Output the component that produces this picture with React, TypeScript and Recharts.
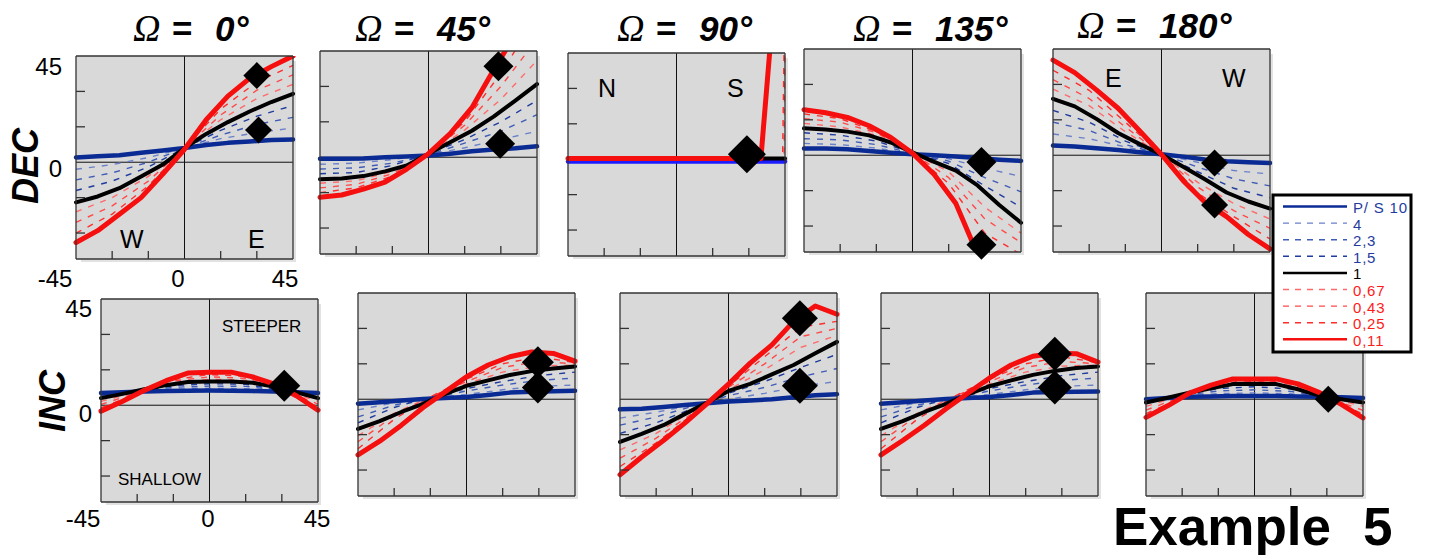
import React from 'react'
import { ComposedChart, Line, Scatter, XAxis, YAxis, CartesianGrid, ReferenceLine } from 'recharts'

// x positions of the traces (degrees)
const XS = [-45, -36, -27, -18, -9, 0, 9, 18, 27, 36, 45]
const XD = [-45, -30, -15, 0, 15, 30, 45]
const XS90 = [-45, 0, 35, 38.7, 45]
const XD90 = [-45, 0, 44, 44.6, 45]
const TICKS = [-30, -15, 15, 30]
const OMEGAS = ['0°', '45°', '90°', '135°', '180°']
const RATIOS = ['P/ S 10', '4', '2,3', '1,5', '1', '0,67', '0,43', '0,25', '0,11']

// solid rows: P/S 10, 1, 0,11
// dash rows: P/S 4, 2,3, 1,5, 0,67, 0,43, 0,25
const dec0Solid = [
  [2, 2.5, 3, 4, 5, 6, 7.3, 8.2, 8.8, 9.4, 9.6],
  [-17, -14.5, -11, -6, -1, 6, 12, 17, 21.5, 25.5, 29],
  [-34, -29, -22, -15, -5, 5.5, 18, 28, 35.5, 40.5, 45],
]
const dec0Dash = [
  [-3, -1, 2, 6, 10, 12.5, 14.5],
  [-7.5, -4.5, 0, 6, 11.5, 16, 19],
  [-12, -8, -2, 6, 13.5, 19.5, 24],
  [-21, -15, -6, 6, 18, 27, 33],
  [-25.5, -18.5, -8, 6, 20, 30.5, 37],
  [-30, -22, -10, 6, 22.5, 34, 41],
]
const dec0Marks = [[30, 36.7], [30.7, 13.6]]

const dec45Solid = [
  [-0.7, -0.7, -0.5, 0, 0.3, 0.7, 1.5, 2.5, 3.3, 3.8, 4.6],
  [-9.3, -9, -8, -6, -3.5, 1.5, 6.3, 11.2, 17.2, 24, 31],
  [-17, -16, -13.5, -10.5, -5, 1.5, 10, 21, 37, 52, 70],
]
const dec45Dash = [
  [-3, -2.5, -1, 1, 4, 7.5, 11],
  [-5, -4.5, -2.5, 1, 6, 11, 18],
  [-7, -6.5, -3.5, 1.5, 7.5, 15, 24],
  [-11, -10, -6, 1.5, 11.5, 24.5, 41],
  [-13, -11.5, -7, 1.5, 13.5, 30, 50],
  [-15, -13, -8, 1.5, 15, 35.5, 60],
]
const dec45Marks = [[29, 38.5], [29.7, 5.7]]

const dec90Solid = [
  [-1, -1, -1, -1, -1],
  [0.3, 0.3, 0.3, 0.3, 0.3],
  [0.3, 0.3, 0.3, 46, 124],
]
const dec90Dash = [
  [0.3, 0.3, 0.3, 0.3, 0.3],
  [0.3, 0.3, 0.3, 0.3, 0.3],
  [0.3, 0.3, 0.3, 0.3, 0.3],
  [0.3, 0.3, 0.3, 0.3, 0.3],
  [0.3, 0.3, 0.3, 0.3, 60],
  [0.3, 0.3, 0.3, 46, 90],
]
const dec90Marks = [[29.2, 2.1]]

const dec135Solid = [
  [2.9, 2.8, 2.5, 1.8, 1, 0.4, 0, -0.5, -1.2, -1.9, -2.4],
  [11.4, 10.9, 10, 8.4, 5.4, 1.2, -2.8, -6.5, -12.8, -21.1, -28.6],
  [19.3, 18, 16, 12.5, 7.5, 0.8, -8.2, -20.5, -42, -70, -100],
]
const dec135Dash = [
  [5, 4.5, 3, 0.6, -1.5, -5.5, -9],
  [7, 6.5, 4.5, 0.8, -2.5, -9.5, -15.5],
  [9.5, 8.5, 6, 1, -3.5, -13, -22],
  [13.5, 12, 8.5, 1, -7, -22, -33],
  [15.5, 14, 9.5, 1, -9.5, -27, -37],
  [17.5, 15.5, 10, 1, -12, -33, -42],
]
const dec135Marks = [[28.6, -2.9], [28.6, -37.9]]

const dec180Solid = [
  [4.1, 3.7, 3, 2.2, 1.3, 0.4, -0.6, -1.8, -2.6, -3, -3.3],
  [23.9, 20.7, 15.4, 9.4, 4.7, 0.3, -4.9, -10.2, -15.8, -19.6, -22.6],
  [40.3, 35, 27.7, 19.9, 10.3, 0.3, -10.8, -19.9, -26, -33.6, -39.7],
]
const dec180Dash = [
  [9, 7, 3.5, 0.4, -3, -6.5, -8],
  [14, 10.5, 4.5, 0.4, -5, -10, -13],
  [19, 14, 6, 0.3, -7, -14, -18],
  [28, 21, 10, 0.3, -11.5, -20.5, -27],
  [32, 24, 12, 0.3, -13.5, -23.5, -31],
  [36, 27.5, 14, 0.3, -16, -26, -35.5],
]
const dec180Marks = [[22, -3.3], [22, -21.1]]

const inc0Solid = [
  [5.2, 5.5, 5.8, 6, 6.1, 6.2, 6.1, 6, 5.8, 5.5, 5.2],
  [3, 4.8, 6.8, 8.5, 9.8, 10, 10, 9.5, 7.8, 5.5, 3],
  [-2.5, 1.7, 6.3, 10.4, 13.6, 14, 14, 12, 8.9, 4, -2.1],
]
const inc0Dash = [
  [4.7, 5.8, 6.8, 7.2, 7, 5.9, 4.7],
  [4.1, 5.9, 7.6, 8.1, 8, 6.1, 4.1],
  [3.6, 5.9, 8.3, 9.1, 8.9, 6.3, 3.6],
  [1.6, 5.6, 9.6, 11, 10.6, 6.5, 1.7],
  [0.3, 5.3, 10.3, 12, 11.4, 6.5, 0.5],
  [-1.1, 4.9, 10.9, 13, 12.2, 6.5, -0.8],
]
const inc0Marks = [[31, 8.3]]

const inc45Solid = [
  [-1.9, -1.3, -0.5, 0.1, 0.5, 0.9, 1.8, 2.8, 3.2, 3.4, 3.6],
  [-12.6, -9.3, -5.4, -2, 2.2, 5.7, 8, 10.3, 11.9, 13, 13.9],
  [-23.6, -17.8, -11, -3.5, 3, 9.5, 14.5, 18, 20, 19.4, 16.1],
]
const inc45Dash = [
  [-4.5, -1.5, 0.5, 2, 4, 5.5, 6],
  [-7.5, -2.5, 0.5, 3.5, 6, 8, 9],
  [-10, -3.5, 1, 4.5, 7.5, 10, 11.5],
  [-15.5, -6, 1, 6.5, 11.5, 14, 14.5],
  [-18, -7, 1, 7.5, 13.5, 16, 15],
  [-21, -8.5, 1, 8.5, 15, 18, 15.5],
]
const inc45Marks = [[29.6, 15.7], [29.6, 5]]

const inc90Solid = [
  [-4.3, -4, -3.3, -2.4, -1.7, -1, -0.5, 0, 0.8, 1.7, 2.1],
  [-18.1, -14.7, -11, -6.2, -1.5, 3.5, 6.5, 10.5, 14.5, 19.5, 24.3],
  [-32, -24.5, -17.5, -10, -2, 6.4, 15.3, 23, 33, 39.5, 36],
]
const inc90Dash = [
  [-8, -5.5, -2.5, 0, 2.5, 5.5, 7.5],
  [-11, -7.5, -3, 1.5, 5, 9.5, 13],
  [-14.5, -10, -4, 2.5, 7.5, 13.5, 19],
  [-21.5, -14.5, -5, 4, 12.5, 22, 27],
  [-25, -16.5, -6, 5, 15, 26.5, 30],
  [-28.5, -18.5, -6.5, 5.5, 18, 30.5, 33],
]
const inc90Marks = [[29.6, 34.3], [29.6, 5.7]]

const inc135Solid = [
  [-1.9, -1.3, -0.5, 0.1, 0.5, 0.9, 1.8, 2.8, 3.1, 3.2, 3.3],
  [-12.6, -9.3, -5.4, -2, 2, 5.5, 8, 10.3, 12, 13.2, 13.9],
  [-23.6, -17.5, -11, -4, 2.5, 9, 14.5, 18.2, 19.5, 19.3, 15.7],
]
const inc135Dash = [
  [-4.5, -1.5, 0.5, 2, 4, 5.5, 6],
  [-7.5, -2.5, 0.5, 3.5, 6, 8, 9],
  [-10, -3.5, 1, 4.5, 7.5, 10, 11.5],
  [-15.5, -6, 1, 6.5, 11.5, 14, 14.5],
  [-18, -7, 1, 7.5, 13.5, 16, 15],
  [-21, -8.5, 1, 8.5, 15, 18, 15.5],
]
const inc135Marks = [[27.1, 19.3], [27.1, 5]]

const inc180Solid = [
  [0, 0.5, 1, 1.2, 1.4, 1.4, 1.4, 1.2, 1, 0.8, 0.5],
  [-1.4, 0.6, 2.8, 4.6, 6.4, 6.6, 6.4, 4.2, 1.5, 0, -1.4],
  [-7.7, -2.8, 2.6, 6, 8.6, 8.6, 8.6, 6.5, 2.8, -2.2, -7.9],
]
const inc180Dash = [
  [-0.4, 1.1, 2.4, 2.7, 2.3, 0.9, 0],
  [-0.7, 1.5, 3.5, 4, 3.3, 0.9, -0.5],
  [-1.1, 1.8, 4.5, 5.3, 4.3, 0.9, -0.9],
  [-3, 1.6, 6, 7.1, 5.9, 0.8, -3],
  [-4.6, 1.1, 6.3, 7.6, 6.5, 0.8, -4.7],
  [-6.1, 0.5, 6.6, 8.1, 7.1, 0.7, -6.3],
]
const inc180Marks = [[30.6, 0]]

const W = 215
const H = 201
const M = 24
const SANS = "'Liberation Sans', Arial, sans-serif"
const SERIF = "'Liberation Serif', 'Times New Roman', serif"
const BLUE = '#0b2b94'
const RED = '#f50f0f'
const SOLID_STYLE = [
  { stroke: BLUE, width: 4.5 },
  { stroke: '#000', width: 4 },
  { stroke: RED, width: 5 },
]
const DASH_COLORS = ['#6a80c8', '#3f5cb6', '#1f3c9e', '#ff6a6a', '#ff4a4a', '#ff2e2e']
const FRAME = { stroke: '#333', strokeWidth: 1.3 }

const PANELS = [
  { left: 77, top: 57, xs: XS, xd: XD, solid: dec0Solid, dash: dec0Dash, marks: dec0Marks, r: 13.5 },
  { left: 321, top: 52, xs: XS, xd: XD, solid: dec45Solid, dash: dec45Dash, marks: dec45Marks, r: 15 },
  { left: 569, top: 54, xs: XS90, xd: XD90, solid: dec90Solid, dash: dec90Dash, marks: dec90Marks, r: 19, blue: '#1c1cff' },
  { left: 805, top: 50, xs: XS, xd: XD, solid: dec135Solid, dash: dec135Dash, marks: dec135Marks, r: 15 },
  { left: 1054, top: 50, xs: XS, xd: XD, solid: dec180Solid, dash: dec180Dash, marks: dec180Marks, r: 13.5 },
  { left: 102, top: 300, xs: XS, xd: XD, solid: inc0Solid, dash: inc0Dash, marks: inc0Marks, r: 16 },
  { left: 359, top: 294, xs: XS, xd: XD, solid: inc45Solid, dash: inc45Dash, marks: inc45Marks, r: 16 },
  { left: 621, top: 294, xs: XS, xd: XD, solid: inc90Solid, dash: inc90Dash, marks: inc90Marks, r: 18 },
  { left: 882, top: 294, xs: XS, xd: XD, solid: inc135Solid, dash: inc135Dash, marks: inc135Marks, r: 17 },
  { left: 1147, top: 294, xs: XS, xd: XD, solid: inc180Solid, dash: inc180Dash, marks: inc180Marks, r: 13.5 },
]

const diamond = (r: number) => (props: any) => {
  const { cx, cy } = props
  return <polygon points={`${cx},${cy - r} ${cx + r},${cy} ${cx},${cy + r} ${cx - r},${cy}`} fill="#000" />
}

// tick marks only, no tick labels
const noLabel = () => <g />

function Panel({ cfg }: { cfg: any }) {
  const solid = cfg.solid.map((v: number[]) => cfg.xs.map((x: number, i: number) => ({ x, y: v[i] })))
  const dash = cfg.dash.map((v: number[]) => cfg.xd.map((x: number, i: number) => ({ x, y: v[i] })))
  const marks = cfg.marks.map(([x, y]: number[]) => ({ x, y }))

  // axes take 1px each side (a 0px axis is not drawn)
  const m = M - 1
  return (
    <div style={{ position: 'absolute', left: cfg.left - M, top: cfg.top - M, width: W + 2 * M, height: H + 2 * M }}>
      {/* drop shadow */}
      <div style={{ position: 'absolute', left: M + 4, top: M + 4, width: W, height: H, background: '#e2e2e2' }} />
      <div style={{ position: 'absolute', left: 0, top: 0 }}>
        <ComposedChart width={W + 2 * M} height={H + 2 * M} margin={{ top: m, right: m, bottom: m, left: m }}>
          <CartesianGrid fill="#d9d9d9" horizontal={false} vertical={false} />
          <XAxis type="number" dataKey="x" domain={[-45, 45]} ticks={TICKS} interval={0} height={1} mirror
            tick={noLabel} tickSize={8} axisLine={FRAME} tickLine={FRAME} />
          <XAxis xAxisId="top" orientation="top" type="number" dataKey="x" domain={[-45, 45]} ticks={TICKS}
            interval={0} height={1} mirror tick={noLabel} tickSize={8} axisLine={FRAME} tickLine={FRAME} />
          <YAxis type="number" domain={[-41, 45]} allowDataOverflow ticks={TICKS} interval={0} width={1} mirror
            tick={noLabel} tickSize={9} axisLine={FRAME} tickLine={FRAME} />
          <YAxis yAxisId="right" orientation="right" type="number" domain={[-41, 45]} ticks={TICKS} interval={0}
            width={1} mirror tick={noLabel} tickSize={9} axisLine={FRAME} tickLine={FRAME} />
          <YAxis yAxisId="s" type="number" domain={[-41, 45]} hide />
          <ReferenceLine x={0} stroke="#111" strokeWidth={1} />
          <ReferenceLine y={0} stroke="#111" strokeWidth={1} />
          {dash.map((d: any, i: number) => (
            <Line key={'d' + i} data={d} dataKey="y" type="linear" stroke={DASH_COLORS[i]} strokeWidth={1.4}
              strokeDasharray="6 7" dot={false} activeDot={false} isAnimationActive={false} />
          ))}
          {solid.map((d: any, i: number) => (
            <Line key={'s' + i} data={d} dataKey="y" type="linear"
              stroke={i === 0 && cfg.blue ? cfg.blue : SOLID_STYLE[i].stroke} strokeWidth={SOLID_STYLE[i].width}
              strokeLinejoin="round" strokeLinecap="round" dot={false} activeDot={false} isAnimationActive={false} />
          ))}
          <Scatter data={marks} dataKey="y" yAxisId="s" shape={diamond(cfg.r)} isAnimationActive={false} />
        </ComposedChart>
      </div>
    </div>
  )
}

const TITLE_X = [133, 355, 617, 853, 1077]
const TITLE_Y = [41, 41, 41, 41, 38]

function Overlay() {
  const legendY = (i: number) => 213 + i * 16.6
  return (
    <svg width={1437} height={555} style={{ position: 'absolute', left: 0, top: 0, pointerEvents: 'none' }}>
      {OMEGAS.map((o, i) => (
        <text key={o} y={TITLE_Y[i]} fill="#000">
          <tspan x={TITLE_X[i]} fontFamily={SERIF} fontStyle="italic" fontSize={38}>Ω</tspan>
          <tspan x={TITLE_X[i] + 39} fontFamily={SANS} fontWeight="bold" fontSize={35}>=</tspan>
          <tspan x={TITLE_X[i] + 82} fontFamily={SANS} fontWeight="bold" fontStyle="italic" fontSize={35}>{o}</tspan>
        </text>
      ))}

      <text transform="translate(38,166) rotate(-90)" textAnchor="middle" fontFamily={SANS} fontWeight="bold"
        fontStyle="italic" fontSize={36}>DEC</text>
      <text transform="translate(65,401) rotate(-90)" textAnchor="middle" fontFamily={SANS} fontWeight="bold"
        fontStyle="italic" fontSize={36}>INC</text>

      <g fontFamily={SANS} fontSize={24} fill="#000">
        <text x={62} y={75} textAnchor="end">45</text>
        <text x={62} y={177} textAnchor="end">0</text>
        <text x={55} y={287} textAnchor="middle">-45</text>
        <text x={178} y={287} textAnchor="middle">0</text>
        <text x={285} y={287} textAnchor="middle">45</text>
        <text x={92} y={317} textAnchor="end">45</text>
        <text x={92} y={422} textAnchor="end">0</text>
        <text x={83} y={527} textAnchor="middle">-45</text>
        <text x={208} y={527} textAnchor="middle">0</text>
        <text x={317} y={527} textAnchor="middle">45</text>
      </g>

      <g fontFamily={SANS} fontSize={25} fill="#000">
        <text x={120} y={248}>W</text>
        <text x={248} y={248}>E</text>
        <text x={598} y={97}>N</text>
        <text x={727} y={97}>S</text>
        <text x={1105} y={87}>E</text>
        <text x={1222} y={87}>W</text>
      </g>
      <g fontFamily={SANS} fontSize={17} fill="#000">
        <text x={222} y={332}>STEEPER</text>
        <text x={118} y={485}>SHALLOW</text>
      </g>

      {/* legend */}
      <rect x={1273} y={195} width={138} height={157} fill="#fff" stroke="#000" strokeWidth={3} />
      {RATIOS.map((t, i) => {
        const y = legendY(i)
        const blue = i < 4
        const red = i > 4
        const solidLine = i === 0 || i === 4 || i === 8
        const color = i === 0 ? BLUE : i === 4 ? '#000' : i === 8 ? RED : DASH_COLORS[i < 4 ? i - 1 : i - 2]
        return (
          <g key={t}>
            <line x1={1283} x2={1347} y1={y - 6.5} y2={y - 6.5} stroke={color} strokeWidth={solidLine ? 2.5 : 1.4}
              strokeDasharray={solidLine ? undefined : '6 6'} />
            <text x={1353} y={y} fontFamily={SANS} fontSize={15} letterSpacing={0.8}
              fill={blue ? '#1f3c9e' : red ? '#ff1a1a' : '#000'} style={{ whiteSpace: 'pre' }}>{t}</text>
          </g>
        )
      })}

      <text y={545} fontFamily={SANS} fontWeight="bold" fontSize={53} fill="#000">
        <tspan x={1113}>Example</tspan>
        <tspan x={1363}>5</tspan>
      </text>
    </svg>
  )
}

export default function App() {
  return (
    <div style={{ position: 'absolute', left: 0, top: 0, width: 1437, height: 555, background: '#fff' }}>
      {PANELS.map((p, i) => (
        <Panel key={i} cfg={p} />
      ))}
      <Overlay />
    </div>
  )
}
